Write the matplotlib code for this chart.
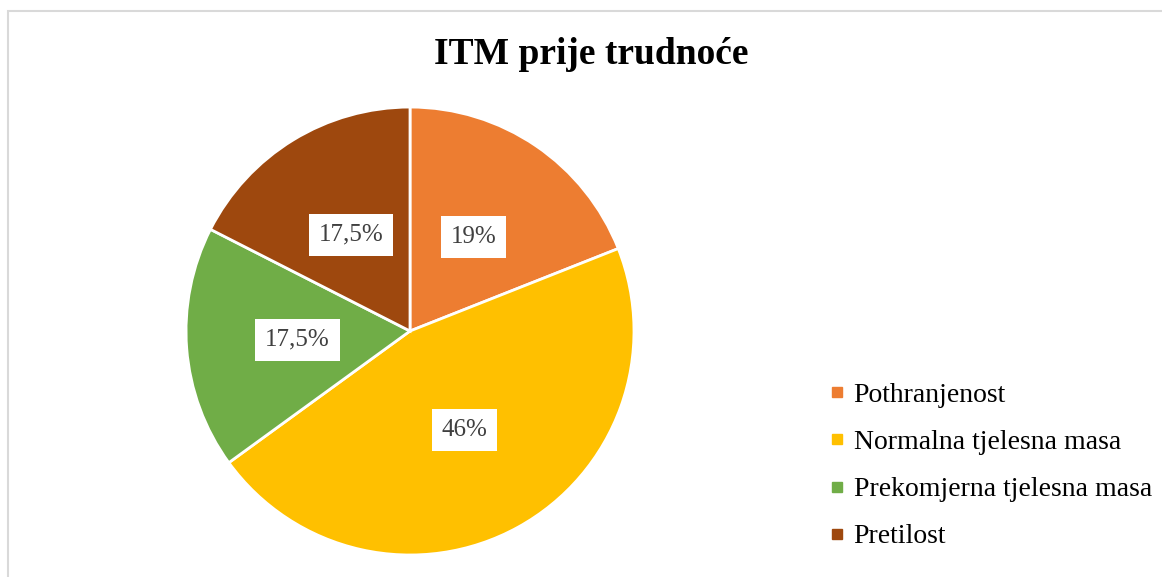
import numpy as np
import matplotlib.pyplot as plt
from matplotlib.lines import Line2D
from matplotlib.patches import Rectangle

plt.rcParams['font.family'] = ['Liberation Serif', 'DejaVu Serif']

title = "ITM prije trudnoće"
categories = ["Pothranjenost", "Normalna tjelesna masa", "Prekomjerna tjelesna masa", "Pretilost"]
values = [19, 46, 17.5, 17.5]
pct_labels = ["19%", "46%", "17,5%", "17,5%"]
colors = ["#ED7D31", "#FFC000", "#70AD47", "#9E480E"]

fig = plt.figure(figsize=(11.62, 5.77), dpi=100)

# light grey chart frame (open at right and bottom like the crop)
fig.patches.append(Rectangle((7.5 / 1162, -0.05), 1.2, 1 - 10.5 / 577 + 0.05,
                             transform=fig.transFigure, fill=False,
                             edgecolor="#D9D9D9", linewidth=1.5))

ax = fig.add_axes([0.1601, 0.0381, 0.3855, 0.7764])
wedges, _ = ax.pie(values, colors=colors, startangle=90, counterclock=False,
                   wedgeprops=dict(edgecolor="white", linewidth=2))
ax.set_xlim(-1, 1)
ax.set_ylim(-1, 1)
ax.set_aspect("equal")

for w, lab in zip(wedges, pct_labels):
    ang = np.deg2rad((w.theta1 + w.theta2) / 2)
    ax.text(0.505 * np.cos(ang), 0.505 * np.sin(ang), lab, ha="center", va="center",
            fontsize=18, color="#404040",
            bbox=dict(boxstyle="square,pad=0.4", facecolor="white", edgecolor="none"))

fig.text(591.5 / 1162, 1 - 55 / 577, title, ha="center", va="center",
         fontsize=27, fontweight="bold", color="black")

handles = [Line2D([], [], marker="s", linestyle="none", markersize=7,
                  markerfacecolor=c, markeredgecolor=c) for c in colors]
fig.legend(handles, categories, loc="center left", bbox_to_anchor=(805 / 1162, 1 - 466 / 577),
           frameon=False, fontsize=20, handlelength=0.5, handletextpad=0.35,
           labelspacing=0.78)

fig.savefig("out.png", dpi=100)
